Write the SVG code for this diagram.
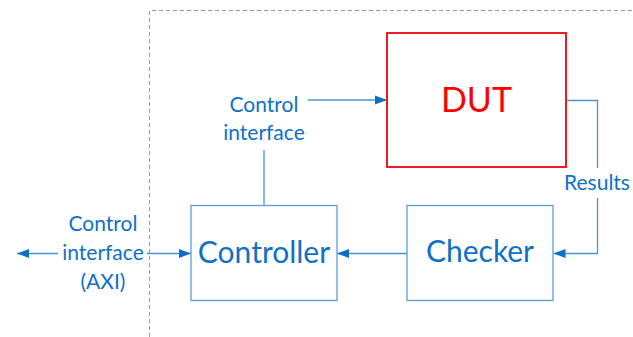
<svg xmlns="http://www.w3.org/2000/svg" width="633" height="337" viewBox="0 0 633 337">
  <defs>
    <marker id="arrow" viewBox="0 0 12 10" refX="12" refY="5" markerWidth="12" markerHeight="10" markerUnits="userSpaceOnUse" orient="auto">
      <path d="M0,0.5 L12,5 L0,9.5 z" fill="#0F6FC6"/>
    </marker>
    <style>
      .box { fill: #FFFFFF; stroke: #5B9BD5; stroke-width: 1.3; }
      .dut { fill: #FFFFFF; stroke: #EE1C24; stroke-width: 2; }
      .wire { fill: none; stroke: #4A94D6; stroke-width: 1.3; }
      .lbl { font-family: Lato, "Liberation Sans", sans-serif; fill: #1070C4; text-anchor: middle; }
      .big { font-size: 30px; }
      .small { font-size: 21px; }
    </style>
  </defs>
  <rect width="633" height="337" fill="#FFFFFF"/>

  <!-- boundary of the test system -->
  <path d="M149.5,337 V10.5 H633" fill="none" stroke="#9A9A9A" stroke-width="1" stroke-dasharray="4,3"/>

  <g id="connectors">
    <!-- controller to DUT control interface -->
    <path class="wire" d="M264,205 V150"/>
    <path class="wire" d="M308,100 H387" marker-end="url(#arrow)"/>
    <!-- DUT results to checker -->
    <path class="wire" d="M566,100.5 H597.5 V168"/>
    <path class="wire" d="M597.5,198 V253.5 H553.5" marker-end="url(#arrow)"/>
    <!-- checker to controller -->
    <path class="wire" d="M407,253.5 H337" marker-end="url(#arrow)"/>
    <!-- external AXI interface -->
    <path class="wire" d="M147,253.5 H191" marker-end="url(#arrow)"/>
    <path class="wire" d="M58,253.5 H17" marker-end="url(#arrow)"/>
  </g>

  <g id="dut">
    <rect class="dut" x="387" y="33" width="179" height="134"/>
    <text x="476.5" y="112" font-family="Lato, 'Liberation Sans', sans-serif" font-size="34" fill="#FF0000" text-anchor="middle">DUT</text>
  </g>

  <g id="controller">
    <rect class="box" x="191" y="205.5" width="146" height="95"/>
    <text class="lbl big" x="264" y="263">Controller</text>
  </g>

  <g id="checker">
    <rect class="box" x="407" y="205.5" width="146" height="95"/>
    <text class="lbl big" x="480" y="262">Checker</text>
  </g>

  <g id="label-control">
    <text class="lbl small" x="264" y="112">Control</text>
    <text class="lbl small" x="264" y="140">interface</text>
  </g>

  <g id="label-results">
    <text class="lbl small" x="597" y="190">Results</text>
  </g>

  <g id="label-axi">
    <text class="lbl small" x="103" y="231">Control</text>
    <text class="lbl small" x="103" y="260">interface</text>
    <text class="lbl small" x="103" y="289">(AXI)</text>
  </g>
</svg>
